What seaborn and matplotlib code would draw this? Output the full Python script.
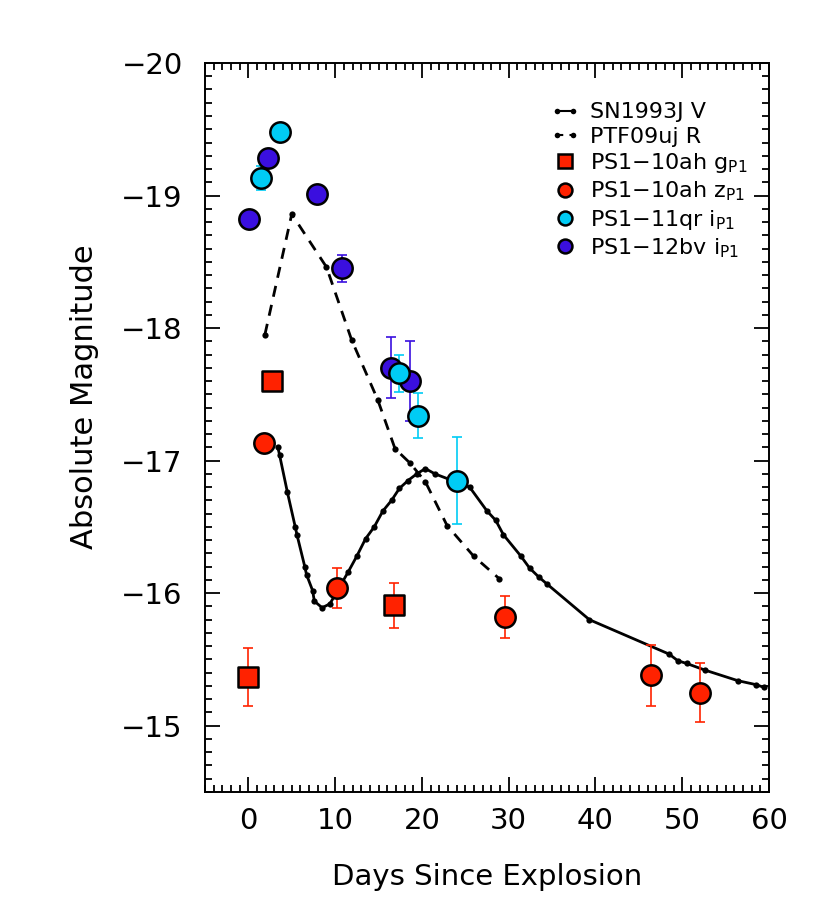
import matplotlib
matplotlib.use("Agg")
import matplotlib.pyplot as plt
from matplotlib.lines import Line2D
from matplotlib.legend_handler import HandlerLine2D
from matplotlib.ticker import MultipleLocator
import seaborn as sns

# ---------------- data ----------------
sn93j_day = [3.4, 3.6, 4.5, 5.4, 5.6, 6.5, 6.7, 7.4, 7.6, 8.5, 9.4, 11.5, 12.5,
             13.5, 14.5, 15.5, 16.5, 17.4, 18.4, 19.4, 20.4, 21.5, 25.5, 27.5,
             28.5, 29.4, 31.4, 32.4, 33.5, 34.4, 39.3, 48.5, 49.5, 50.5, 52.6,
             56.4, 58.5, 59.4]
sn93j_mag = [-17.10, -17.04, -16.76, -16.50, -16.44, -16.20, -16.14, -16.02,
             -15.94, -15.89, -15.92, -16.16, -16.28, -16.41, -16.50, -16.62,
             -16.70, -16.79, -16.85, -16.90, -16.94, -16.90, -16.80, -16.62,
             -16.55, -16.44, -16.28, -16.19, -16.12, -16.07, -15.80, -15.54,
             -15.49, -15.47, -15.42, -15.34, -15.31, -15.29]

ptf_day = [1.9, 5.0, 9.0, 11.9, 14.9, 16.9, 18.65, 20.4, 22.9, 25.95, 28.9]
ptf_mag = [-17.95, -18.86, -18.46, -17.91, -17.46, -17.09, -16.98, -16.84,
           -16.51, -16.28, -16.11]

g10ah_day = [0.0, 2.7, 16.8]
g10ah_mag = [-15.37, -17.60, -15.91]
g10ah_err = [0.22, 0.0, 0.17]

z10ah_day = [1.85, 10.2, 29.6, 46.45, 52.0]
z10ah_mag = [-17.13, -16.04, -15.82, -15.38, -15.25]
z10ah_err = [0.0, 0.15, 0.16, 0.23, 0.22]

i11qr_day = [1.45, 3.65, 17.3, 19.55, 24.05]
i11qr_mag = [-19.13, -19.48, -17.66, -17.34, -16.85]
i11qr_err = [0.09, 0.0, 0.14, 0.17, 0.33]

i12bv_day = [0.1, 2.25, 7.9, 10.8, 16.45, 18.65]
i12bv_mag = [-18.82, -19.28, -19.01, -18.45, -17.70, -17.60]
i12bv_err = [0.0, 0.0, 0.0, 0.10, 0.23, 0.30]

labels = ["SN1993J V", "PTF09uj R",
          r"PS1$-$10ah g$_{\mathrm{P1}}$", r"PS1$-$10ah z$_{\mathrm{P1}}$",
          r"PS1$-$11qr i$_{\mathrm{P1}}$", r"PS1$-$12bv i$_{\mathrm{P1}}$"]

RED = "#ff2200"
CYAN = "#00ccf5"
INDIGO = "#3a0fdf"

# ---------------- style ----------------
sns.set_style("ticks")
plt.rcParams["font.family"] = ["DejaVu Sans"]
plt.rcParams["mathtext.fontset"] = "dejavusans"
plt.rcParams["text.color"] = "black"
plt.rcParams["axes.labelcolor"] = "black"

fig = plt.figure(figsize=(8.3, 9.22), dpi=100)
ax = fig.add_axes([0.2470, 0.1410, 0.6795, 0.7907])

# lines
sns.lineplot(x=sn93j_day, y=sn93j_mag, ax=ax, sort=False, color="black",
             linewidth=2.0, marker="o", markersize=4.5, markeredgewidth=0,
             zorder=2, legend=False)
sns.lineplot(x=ptf_day, y=ptf_mag, ax=ax, sort=False, color="black",
             linewidth=2.0, linestyle=(0, (4, 3)), marker="o", markersize=4.5,
             markeredgewidth=0, zorder=2, legend=False)

def errs(days, mags, errs_, color):
    d = [a for a, e in zip(days, errs_) if e > 0]
    m = [b for b, e in zip(mags, errs_) if e > 0]
    e = [e for e in errs_ if e > 0]
    ax.errorbar(d, m, yerr=e, fmt="none", ecolor=color, elinewidth=1.2,
                capsize=3.5, capthick=1.2, zorder=3)

errs(g10ah_day, g10ah_mag, g10ah_err, RED)
errs(z10ah_day, z10ah_mag, z10ah_err, RED)
errs(i12bv_day, i12bv_mag, i12bv_err, INDIGO)
errs(i11qr_day, i11qr_mag, i11qr_err, CYAN)

sns.scatterplot(x=g10ah_day, y=g10ah_mag, ax=ax, marker="s", s=225, color=RED,
                edgecolor="black", linewidth=1.8, zorder=4, legend=False)
sns.scatterplot(x=z10ah_day, y=z10ah_mag, ax=ax, marker="o", s=215, color=RED,
                edgecolor="black", linewidth=1.8, zorder=4, legend=False)
sns.scatterplot(x=i12bv_day, y=i12bv_mag, ax=ax, marker="o", s=215, color=INDIGO,
                edgecolor="black", linewidth=1.8, zorder=5, legend=False)
sns.scatterplot(x=i11qr_day, y=i11qr_mag, ax=ax, marker="o", s=215, color=CYAN,
                edgecolor="black", linewidth=1.8, zorder=6, legend=False)

# axes
ax.set_xlim(-5, 60)
ax.set_ylim(-14.5, -20)
ax.xaxis.set_major_locator(MultipleLocator(10))
ax.xaxis.set_minor_locator(MultipleLocator(1))
ax.yaxis.set_major_locator(MultipleLocator(1))
ax.yaxis.set_minor_locator(MultipleLocator(0.1))
ax.tick_params(which="both", direction="in", top=True, right=True,
               width=1.3, colors="black", labelsize=21)
ax.tick_params(axis="x", which="both", pad=11)
ax.tick_params(axis="y", which="both", pad=16)
ax.tick_params(which="major", length=11)
ax.tick_params(which="minor", length=5)
for s in ax.spines.values():
    s.set_linewidth(1.4)
    s.set_color("black")

ax.set_xlabel("Days Since Explosion", fontsize=21)
ax.set_ylabel("Absolute Magnitude", fontsize=22)
ax.xaxis.set_label_coords(0.5, -0.097)
ax.yaxis.set_label_coords(-0.188, 0.542)

# legend
def mk(marker, color):
    return Line2D([], [], lw=0, marker=marker, markersize=10, markerfacecolor=color,
                  markeredgecolor="black", markeredgewidth=1.8)

handles = [
    Line2D([], [], color="black", lw=1.5, marker="o", markersize=4, markeredgewidth=0),
    Line2D([], [], color="black", lw=1.5, linestyle=(0, (3, 3)), marker="o",
           markersize=4, markeredgewidth=0),
    mk("s", RED), mk("o", RED), mk("o", CYAN), mk("o", INDIGO),
]
hmap = {h: HandlerLine2D(numpoints=1) for h in handles[2:]}
ax.legend(handles, labels, loc="upper left", bbox_to_anchor=(0.613, 0.946),
          frameon=False, fontsize=16, handlelength=1.3, handletextpad=0.45,
          labelspacing=0.2, borderpad=0, borderaxespad=0, numpoints=2,
          handler_map=hmap)

fig.savefig("out.png", dpi=100)
